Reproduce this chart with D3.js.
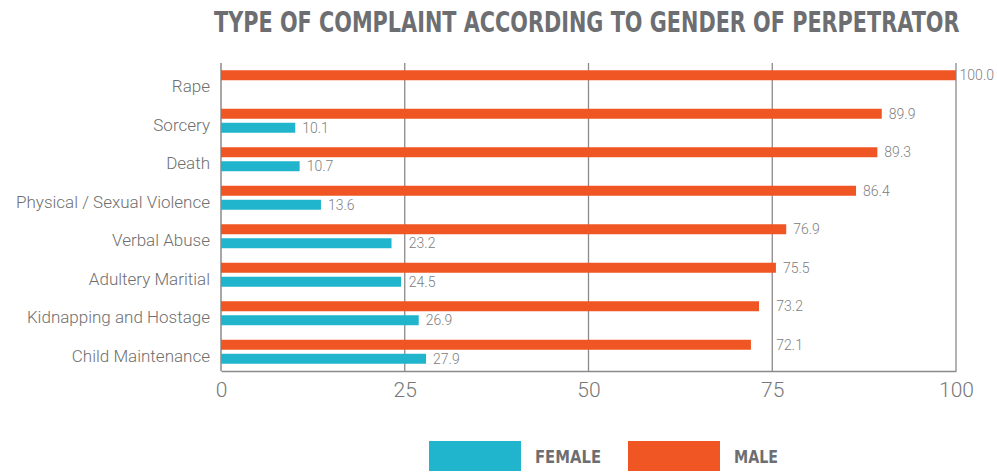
<!DOCTYPE html>
<html>
<head>
<meta charset="utf-8">
<script src="https://cdn.jsdelivr.net/npm/d3@7"></script>
<style>
  body { margin: 0; background: #fff; }
  svg { display: block; }
</style>
</head>
<body>
<svg id="chart" width="997" height="472"></svg>
<script>
const title = "TYPE OF COMPLAINT ACCORDING TO GENDER OF PERPETRATOR";
const categories = ["Rape", "Sorcery", "Death", "Physical / Sexual Violence", "Verbal Abuse", "Adultery Maritial", "Kidnapping and Hostage", "Child Maintenance"];
const maleValues = [100.0, 89.9, 89.3, 86.4, 76.9, 75.5, 73.2, 72.1];
const femaleValues = [null, 10.1, 10.7, 13.6, 23.2, 24.5, 26.9, 27.9];
const tickValues = [0, 25, 50, 75, 100];
const seriesNames = ["MALE", "FEMALE"];
const legendNames = ["FEMALE", "MALE"];

const colors = { MALE: "#f05623", FEMALE: "#20b5cc" };
const W = 997, H = 472;
const svg = d3.select("#chart");

const x = d3.scaleLinear().domain([0, 100]).range([221, 956]);
const y = d3.scaleBand().domain(categories).range([63, 371]).paddingInner(0).paddingOuter(0);
const sub = d3.scaleBand().domain(seriesNames).range([0, y.bandwidth()]).paddingInner(0.286).paddingOuter(0.518);

const gridColor = "#8a8a8a";

// title, horizontally scaled to fit the reference width
const titleText = svg.append("text")
  .attr("x", 0).attr("y", 0)
  .style("font-family", "'DejaVu Sans', sans-serif")
  .style("font-weight", "bold")
  .style("font-size", "29px")
  .style("fill", "#6d6e71")
  .text(title);
const tw = titleText.node().getComputedTextLength();
titleText.attr("transform", `translate(214,31.5) scale(${746 / tw},1)`);

// gridlines
svg.append("g").selectAll("line")
  .data(tickValues.filter(t => t > 0))
  .join("line")
  .attr("x1", d => x(d)).attr("x2", d => x(d))
  .attr("y1", 63).attr("y2", 371)
  .attr("stroke", gridColor).attr("stroke-width", 1.3);

// left axis line
svg.append("line")
  .attr("x1", x(0)).attr("x2", x(0)).attr("y1", 63).attr("y2", 371)
  .attr("stroke", gridColor).attr("stroke-width", 1.5);

// bottom axis
const xAxis = d3.axisBottom(x).tickValues(tickValues).tickSize(0).tickPadding(11).tickFormat(d3.format("d"));
const gx = svg.append("g").attr("transform", "translate(0,371)").call(xAxis);
gx.select(".domain").attr("stroke", gridColor).attr("stroke-width", 1.5);
gx.selectAll("text")
  .style("font-family", "Roboto, sans-serif")
  .style("font-weight", "300")
  .style("font-size", "21px")
  .style("fill", "#777");

// category labels
svg.append("g").selectAll("text")
  .data(categories)
  .join("text")
  .attr("x", 210)
  .attr("y", d => y(d) + y.bandwidth() / 2 + 10)
  .attr("text-anchor", "end")
  .style("font-family", "Roboto, sans-serif")
  .style("font-weight", "300")
  .style("font-size", "17px")
  .style("fill", "#6f6f6f")
  .text(d => d);

const rows = categories.map((c, i) => ({ c, MALE: maleValues[i], FEMALE: femaleValues[i] }));

const barData = [];
rows.forEach(r => seriesNames.forEach(s => {
  if (r[s] != null) barData.push({ c: r.c, s, v: r[s] });
}));

svg.append("g").selectAll("rect")
  .data(barData)
  .join("rect")
  .attr("x", x(0))
  .attr("y", d => y(d.c) + sub(d.s))
  .attr("width", d => x(d.v) - x(0))
  .attr("height", sub.bandwidth())
  .attr("fill", d => colors[d.s]);

// value labels
const labels = svg.append("g").selectAll("text")
  .data(barData)
  .join("text")
  .attr("y", d => y(d.c) + sub(d.s) + sub.bandwidth() / 2)
  .attr("dy", "0.36em")
  .style("font-family", "Roboto, sans-serif")
  .style("font-weight", "300")
  .style("font-size", "14px")
  .style("fill", "#808080")
  .text(d => d3.format(".1f")(d.v));

labels.each(function(d) {
  const w = this.getComputedTextLength();
  let lx = x(d.v) + 7;
  // avoid overlapping gridlines
  tickValues.forEach(t => {
    const g = x(t);
    if (g > lx - 4 && g < lx + w && t < 100) lx = g + 4;
  });
  lx = Math.min(lx, W - w - 3);
  d3.select(this).attr("x", lx);
});

// legend
const legendX = { FEMALE: 429, MALE: 628 };
const legendTextW = { FEMALE: 66, MALE: 44 };
const lg = svg.append("g").selectAll("g").data(legendNames).join("g");
lg.append("rect")
  .attr("x", d => legendX[d]).attr("y", 441)
  .attr("width", 92).attr("height", 30)
  .attr("fill", d => colors[d]);
lg.append("text")
  .attr("x", d => legendX[d] + 106).attr("y", 463)
  .attr("textLength", d => legendTextW[d]).attr("lengthAdjust", "spacingAndGlyphs")
  .style("font-family", "'DejaVu Sans', sans-serif")
  .style("font-stretch", "condensed")
  .style("font-weight", "bold")
  .style("font-size", "18px")
  .style("fill", "#6d6e71")
  .text(d => d);
</script>
</body>
</html>
